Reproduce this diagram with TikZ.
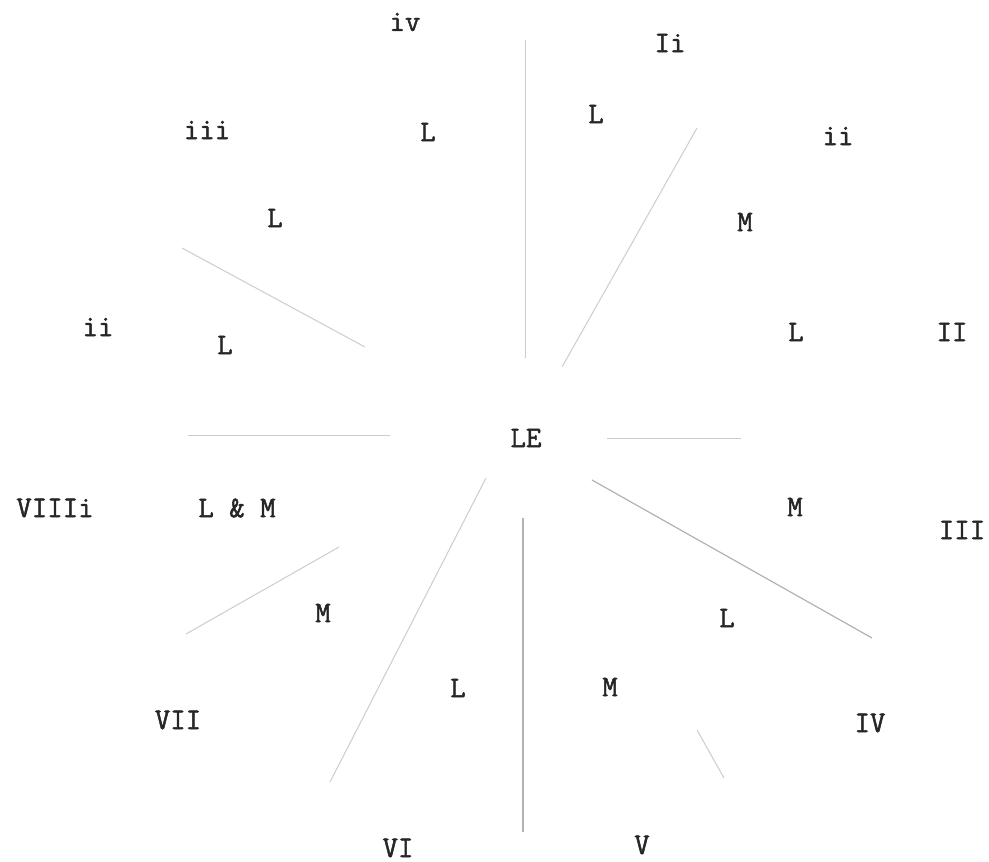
\documentclass[tikz,border=0pt]{standalone}
\usepackage{fontspec}
\newfontfamily\typefont[FakeBold=1.6]{Latin Modern Mono}
\begin{document}
\begin{tikzpicture}[x=0.5pt,y=-0.5pt,
  lbl/.style={font=\fontsize{15}{18}\selectfont\typefont, text=black!85, inner sep=0pt},
  faint/.style={draw=gray!40, line width=0.5pt},
  mid/.style={draw=gray!60, line width=0.6pt}]
\useasboundingbox (0,0) rectangle (989,861);
% labels
\node[lbl] (iv)   at (405,22)  {iv};
\node[lbl] (Ii)   at (670,43)  {Ii};
\node[lbl] (iii)  at (207,130) {iii};
\node[lbl] (La)   at (428,132) {L};
\node[lbl] (Lb)   at (596,114) {L};
\node[lbl] (iiR)  at (838,136) {ii};
\node[lbl] (Lc)   at (275,218) {L};
\node[lbl] (Ma)   at (745,222) {M};
\node[lbl] (iiL)  at (98,327)  {ii};
\node[lbl] (Ld)   at (225,345) {L};
\node[lbl] (Le)   at (796,332) {L};
\node[lbl] (II)   at (952,332) {II};
\node[lbl] (LE)   at (526,438) {LE};
\node[lbl] (VIIIi) at (55,508) {VIIIi};
\node[lbl] (LM)   at (237,508) {L \& M};
\node[lbl] (Mb)   at (795,507) {M};
\node[lbl] (III)  at (962,530) {III};
\node[lbl] (Mc)   at (323,613) {M};
\node[lbl] (Lf)   at (727,618) {L};
\node[lbl] (Lg)   at (458,688) {L};
\node[lbl] (Md)   at (610,687) {M};
\node[lbl] (VII)  at (178,720) {VII};
\node[lbl] (IV)   at (870,723) {IV};
\node[lbl] (VI)   at (398,848) {VI};
\node[lbl] (V)    at (642,845) {V};
% line end points
\coordinate (vu1) at (525,40);
\coordinate (vu2) at (525,358);
\coordinate (vl1) at (523,518);
\coordinate (vl2) at (523,832);
\coordinate (dur1) at (562,367);
\coordinate (dur2) at (697,128);
\coordinate (dul1) at (182,248);
\coordinate (dul2) at (365,347);
\coordinate (hl1) at (188,435);
\coordinate (hl2) at (390,435);
\coordinate (hr1) at (607,438);
\coordinate (hr2) at (741,438);
\coordinate (dlr1) at (592,480);
\coordinate (dlr2) at (872,638);
\coordinate (dll1) at (486,478);
\coordinate (dll2) at (330,782);
\coordinate (sl1) at (339,547);
\coordinate (sl2) at (186,634);
\coordinate (sr1) at (697,730);
\coordinate (sr2) at (724,778);
% lines
\draw[faint] (vu1) -- (vu2);
\draw[mid] (vl1) -- (vl2);
\draw[faint] (dur1) -- (dur2);
\draw[faint] (dul1) -- (dul2);
\draw[faint] (hl1) -- (hl2);
\draw[faint] (hr1) -- (hr2);
\draw[mid] (dlr1) -- (dlr2);
\draw[faint] (dll1) -- (dll2);
\draw[faint] (sl1) -- (sl2);
\draw[faint] (sr1) -- (sr2);
\end{tikzpicture}
\end{document}
